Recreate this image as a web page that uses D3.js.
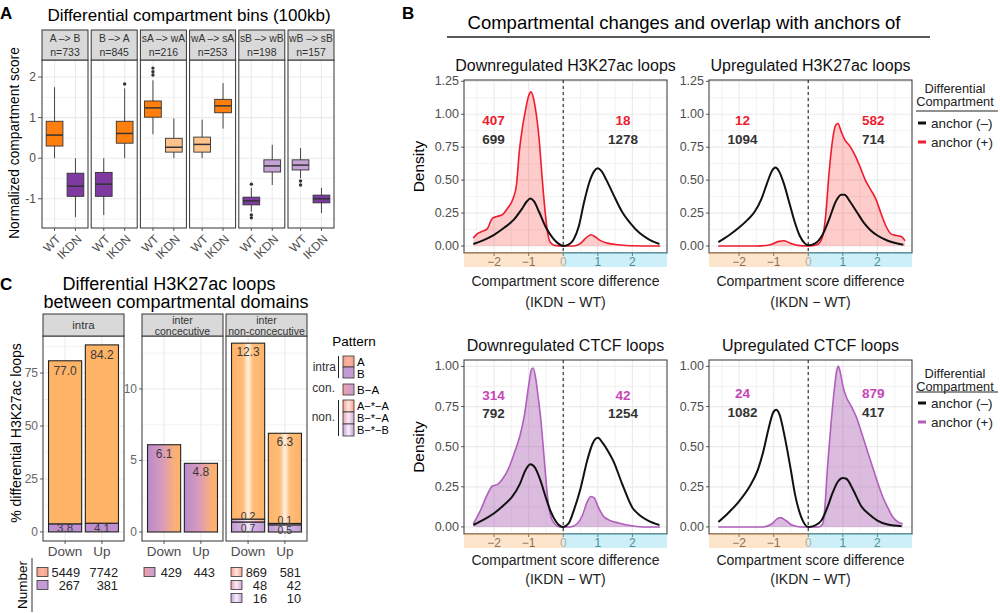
<!DOCTYPE html>
<html>
<head>
<meta charset="utf-8">
<script src="https://cdn.jsdelivr.net/npm/d3@7/dist/d3.min.js"></script>
<style>
html,body{margin:0;padding:0;background:#fff;}
svg{display:block;}
text{font-family:"Liberation Sans",Arial,Helvetica,sans-serif;}
</style>
</head>
<body>
<svg id="chart" width="1000" height="613"></svg>
<script>
// ================= DATA =================
// ---- Panel A : boxplots ----
const facetsA = ["A –> B","B –> A","sA –> wA","wA –> sA","sB –> wB","wB –> sB"];
const facetN  = [733,845,216,253,198,157];
const fromComp = ["A","B","sA","wA","sB","wB"];
const toComp   = ["B","A","wA","sA","wB","sB"];
const groupsA  = ["WT","IKDN"];
// [lower whisker, q1, median, q3, upper whisker]
const boxWT = [
  [0.00, 0.30, 0.57, 0.91, 1.75],
  [-1.40,-0.94,-0.64,-0.35, 0.00],
  [0.59, 1.01, 1.24, 1.41, 1.92],
  [0.00, 0.15, 0.34, 0.52, 0.95],
  [-1.32,-1.15,-1.05,-0.96,-0.73],
  [-0.49,-0.29,-0.17,-0.04, 0.25]
];
const boxIKDN = [
  [-1.45,-0.94,-0.69,-0.37, 0.00],
  [0.00, 0.37, 0.61, 0.91, 1.72],
  [0.00, 0.15, 0.27, 0.49, 0.98],
  [0.73, 1.12, 1.29, 1.45, 1.85],
  [-0.66,-0.34,-0.19,-0.04, 0.33],
  [-1.35,-1.10,-1.00,-0.91,-0.73]
];
const outWT   = [[],[],[2.05,2.13,2.22],[],[-0.64,-1.40,-1.47],[-0.56,-0.66]];
const outIKDN = [[],[1.83],[],[],[],[]];
const yTicksA = [-1,0,1,2];

// ---- Panel C : stacked bars ----
const cGroups = ["Down","Up"];
const intraA = [77.0, 84.2];
const intraB = [3.8, 4.1];
const conBA  = [6.1, 4.8];
const nonAA  = [12.3, 6.3];
const nonBA  = [0.2, 0.1];
const nonBB  = [0.7, 0.5];
const nIntraA = [5449, 7742];
const nIntraB = [267, 381];
const nConBA  = [429, 443];
const nNonAA  = [869, 581];
const nNonBA  = [48, 42];
const nNonBB  = [16, 10];
const yTicksIntra = [0,25,50,75];
const yTicksInter = [0,5,10];

// ---- Panel B : densities  [compartment score difference, density] ----
const h3DownNeg = [[-2.6,0.015],[-2.3,0.045],[-2.0,0.085],[-1.7,0.14],[-1.43,0.2],[-1.2,0.28],[-1.05,0.34],[-0.95,0.36],[-0.85,0.34],[-0.7,0.26],[-0.5,0.14],[-0.3,0.06],[-0.15,0.02],[0,0.0],[0.15,0.01],[0.3,0.05],[0.45,0.15],[0.6,0.33],[0.75,0.48],[0.9,0.57],[1.0,0.59],[1.1,0.57],[1.25,0.5],[1.45,0.39],[1.7,0.26],[1.95,0.17],[2.2,0.1],[2.45,0.055],[2.78,0.015]];
const h3DownPos = [[-2.6,0.06],[-2.5,0.09],[-2.35,0.11],[-2.2,0.13],[-2.05,0.21],[-1.9,0.225],[-1.75,0.24],[-1.6,0.29],[-1.45,0.36],[-1.35,0.47],[-1.27,0.72],[-1.18,0.9],[-1.1,1.02],[-1.0,1.14],[-0.93,1.17],[-0.86,1.12],[-0.78,1.0],[-0.7,0.82],[-0.64,0.62],[-0.58,0.42],[-0.52,0.25],[-0.45,0.1],[-0.38,0.03],[-0.25,0.005],[0,0],[0.3,0],[0.5,0.02],[0.65,0.06],[0.8,0.085],[0.92,0.07],[1.05,0.045],[1.3,0.02],[1.6,0.01],[2.0,0.002],[2.8,0.0]];
const h3UpNeg = [[-2.6,0.03],[-2.3,0.08],[-2.0,0.14],[-1.75,0.2],[-1.55,0.26],[-1.35,0.36],[-1.2,0.47],[-1.05,0.57],[-0.95,0.595],[-0.85,0.57],[-0.7,0.47],[-0.55,0.33],[-0.4,0.19],[-0.25,0.08],[-0.1,0.02],[0,0.005],[0.2,0.02],[0.4,0.08],[0.6,0.2],[0.8,0.34],[0.95,0.39],[1.05,0.39],[1.2,0.34],[1.4,0.26],[1.6,0.18],[1.8,0.12],[2.0,0.08],[2.3,0.04],[2.75,0.01]];
const h3UpPos = [[-2.6,0.0],[-1.5,0.0],[-1.1,0.01],[-0.85,0.035],[-0.7,0.04],[-0.55,0.025],[-0.3,0.005],[0,0],[0.25,0.01],[0.4,0.06],[0.5,0.22],[0.6,0.55],[0.7,0.8],[0.8,0.92],[0.86,0.93],[0.95,0.87],[1.05,0.81],[1.2,0.76],[1.35,0.69],[1.5,0.6],[1.65,0.5],[1.8,0.43],[1.95,0.36],[2.1,0.25],[2.25,0.15],[2.4,0.09],[2.55,0.08],[2.7,0.07],[2.8,0.04]];
const ctcfDownNeg = [[-2.6,0.012],[-2.3,0.045],[-2.0,0.085],[-1.7,0.14],[-1.47,0.19],[-1.25,0.27],[-1.1,0.35],[-0.95,0.39],[-0.82,0.37],[-0.66,0.29],[-0.5,0.18],[-0.37,0.1],[-0.2,0.03],[0,0],[0.15,0.02],[0.3,0.1],[0.5,0.24],[0.7,0.42],[0.85,0.52],[1.0,0.555],[1.15,0.52],[1.3,0.47],[1.45,0.41],[1.7,0.27],[2.0,0.12],[2.2,0.075],[2.45,0.04],[2.78,0.012]];
const ctcfDownPos = [[-2.6,0.02],[-2.4,0.1],[-2.2,0.2],[-2.05,0.255],[-1.9,0.265],[-1.75,0.3],[-1.55,0.38],[-1.4,0.47],[-1.25,0.57],[-1.12,0.7],[-1.0,0.88],[-0.92,0.98],[-0.87,0.99],[-0.8,0.93],[-0.72,0.8],[-0.64,0.65],[-0.58,0.5],[-0.53,0.37],[-0.46,0.2],[-0.38,0.08],[-0.25,0.02],[-0.1,0],[0.2,0],[0.4,0.02],[0.55,0.07],[0.68,0.15],[0.8,0.19],[0.9,0.18],[1.0,0.13],[1.15,0.07],[1.35,0.04],[1.6,0.025],[1.9,0.01],[2.3,0.0],[2.8,0.0]];
const ctcfUpNeg = [[-2.6,0.03],[-2.3,0.09],[-2.0,0.16],[-1.7,0.25],[-1.45,0.36],[-1.3,0.47],[-1.15,0.61],[-1.02,0.71],[-0.93,0.73],[-0.83,0.7],[-0.67,0.55],[-0.5,0.35],[-0.38,0.2],[-0.2,0.06],[0,0.0],[0.2,0.01],[0.38,0.04],[0.55,0.12],[0.7,0.21],[0.85,0.28],[1.0,0.305],[1.1,0.3],[1.3,0.23],[1.53,0.13],[1.75,0.08],[2.0,0.04],[2.3,0.015],[2.7,0.005]];
const ctcfUpPos = [[-2.6,0.0],[-1.3,0.0],[-1.05,0.02],[-0.9,0.05],[-0.8,0.058],[-0.65,0.04],[-0.45,0.01],[-0.2,0],[0.3,0],[0.42,0.02],[0.48,0.12],[0.55,0.35],[0.65,0.62],[0.75,0.85],[0.82,0.97],[0.87,1.0],[0.93,0.96],[1.0,0.88],[1.1,0.81],[1.25,0.75],[1.4,0.68],[1.55,0.58],[1.7,0.48],[1.85,0.38],[2.0,0.28],[2.15,0.19],[2.3,0.12],[2.45,0.06],[2.6,0.03],[2.73,0.02]];
// counts [left (<0), right (>0)]
const h3DownPosN = [407,18],  h3DownNegN = [699,1278];
const h3UpPosN   = [12,582],  h3UpNegN   = [1094,714];
const ctcfDownPosN = [314,42], ctcfDownNegN = [792,1254];
const ctcfUpPosN   = [24,879], ctcfUpNegN   = [1082,417];
const xTicksB = [-2,-1,0,1,2];

// ================= DRAWING =================
const svg = d3.select("#chart");
svg.append("rect").attr("width",1000).attr("height",613).attr("fill","#fff");
const defs = svg.append("defs");
const GRID = "#EBEBEB", BORDER = "#333333", AXT = "#4D4D4D";

function T(g, x, y, s, o = {}) {
  const t = g.append("text").attr("x", x).attr("y", y).text(s)
    .attr("font-size", o.size || 11).attr("fill", o.fill || "#000")
    .attr("text-anchor", o.anchor || "middle")
    .attr("dominant-baseline", o.base || "central");
  if (o.weight) t.attr("font-weight", o.weight);
  if (o.rot !== undefined) t.attr("transform", `rotate(${o.rot},${x},${y})`);
  return t;
}
function L(g, x1, y1, x2, y2, c, w, dash) {
  const l = g.append("line").attr("x1",x1).attr("y1",y1).attr("x2",x2).attr("y2",y2)
    .attr("stroke", c).attr("stroke-width", w);
  if (dash) l.attr("stroke-dasharray", dash);
  return l;
}
function grad(id, stops, vertical) {
  const gr = defs.append("linearGradient").attr("id", id)
    .attr("x1",0).attr("y1",0).attr("x2",vertical?0:1).attr("y2",vertical?1:0);
  stops.forEach(s => gr.append("stop").attr("offset", s[0]).attr("stop-color", s[1]));
}
grad("gCon", [[0,"#B98BCC"],[0.45,"#D89BBB"],[0.8,"#F9AE7A"],[1,"#FFB366"]]);
grad("gAA",  [[0,"#FFB366"],[0.35,"#FFBD7A"],[0.5,"#FFF0E2"],[0.65,"#FFBD7A"],[1,"#FFB366"]]);
grad("gBA",  [[0,"#C596D4"],[0.5,"#FBEAF0"],[1,"#F5A98F"]]);
grad("gBB",  [[0,"#C29AD5"],[0.35,"#D4B6E2"],[0.5,"#F6EEF9"],[0.65,"#D4B6E2"],[1,"#C29AD5"]]);
grad("gKeyA",  [[0,"#F7A18A"],[0.5,"#FAB5A3"],[1,"#F7A18A"]]);
grad("gKeyCon",[[0,"#EFA0A6"],[1,"#C99CD6"]]);
grad("gKeyAA", [[0,"#F7A18A"],[0.5,"#FDE6E0"],[1,"#F7A18A"]]);
grad("gKeyBA", [[0,"#E9A3B8"],[0.5,"#FBEAF2"],[1,"#D6A6D8"]]);
grad("gKeyBB", [[0,"#C8A2D8"],[0.5,"#F6EEF9"],[1,"#C8A2D8"]]);

// panel letters
T(svg, 0, 13, "A", {size:17, weight:"bold", anchor:"start"});
T(svg, 402, 13, "B", {size:17, weight:"bold", anchor:"start"});
T(svg, 0, 284, "C", {size:17, weight:"bold", anchor:"start"});

// ---------------- Panel A ----------------
(function(){
  const g = svg.append("g");
  const compColor = {A:"#FF7F0E", sA:"#FF7F0E", wA:"#FFC48C", B:"#7E3AA0", sB:"#7E3AA0", wB:"#C5A3D6"};
  const fx = d3.scaleBand().domain(facetsA).range([42,334]).paddingInner(0.065);
  const y = d3.scaleLinear().domain([-1.72,2.42]).range([228,60]);
  const bw = fx.bandwidth();
  const minor = yTicksA.map(t=>t+0.5).concat([yTicksA[0]-0.5]).filter(t=>t>y.domain()[0] && t<y.domain()[1]);
  T(g, 189, 15, "Differential compartment bins (100kb)", {size:17});
  facetsA.forEach((f,i)=>{
    const x0 = fx(f);
    const xs = d3.scalePoint().domain(groupsA).range([x0, x0+bw]).padding(0.6);
    g.append("rect").attr("x",x0).attr("y",60).attr("width",bw).attr("height",168).attr("fill","#fff");
    minor.forEach(t=>L(g,x0,y(t),x0+bw,y(t),GRID,0.6));
    yTicksA.forEach(t=>L(g,x0,y(t),x0+bw,y(t),GRID,1.1));
    groupsA.forEach(gr=>L(g,xs(gr),60,xs(gr),228,GRID,1.1));
    const items = [["WT",boxWT[i],outWT[i],fromComp[i]],["IKDN",boxIKDN[i],outIKDN[i],toComp[i]]];
    items.forEach(([gr,st,outs,comp])=>{
      const cx = xs(gr), w = xs.step()*0.8;
      L(g,cx,y(st[0]),cx,y(st[4]),"#333",0.9);
      g.append("rect").attr("x",cx-w/2).attr("y",y(st[3])).attr("width",w).attr("height",y(st[1])-y(st[3]))
        .attr("fill",compColor[comp]).attr("stroke","#333").attr("stroke-width",0.9);
      L(g,cx-w/2,y(st[2]),cx+w/2,y(st[2]),"#333",1.5);
      outs.forEach(o=>g.append("circle").attr("cx",cx).attr("cy",y(o)).attr("r",1.7).attr("fill","#333"));
      T(g, cx+4, 237, gr, {size:12, fill:AXT, anchor:"end", rot:-45});
      L(g,cx,228,cx,231,"#333",0.8);
    });
    g.append("rect").attr("x",x0).attr("y",60).attr("width",bw).attr("height",168)
      .attr("fill","none").attr("stroke",BORDER).attr("stroke-width",1);
    g.append("rect").attr("x",x0).attr("y",30).attr("width",bw).attr("height",30)
      .attr("fill","#D9D9D9").attr("stroke",BORDER).attr("stroke-width",1);
    T(g, x0+bw/2, 38.5, f, {size:10.3, fill:"#333"});
    T(g, x0+bw/2, 52, "n="+facetN[i], {size:10.5, fill:"#333"});
  });
  yTicksA.forEach(t=>{
    T(g, 36, y(t), String(t), {size:12, fill:AXT, anchor:"end"});
    L(g,38,y(t),42,y(t),"#333",0.8);
  });
  T(g, 14, 143, "Normalized compartment score", {size:13.8, rot:-90});
})();

// ---------------- Panel C ----------------
(function(){
  const g = svg.append("g");
  const top = 336, bot = 541;
  const yIntra = d3.scaleLinear().domain([-4.3,92.5]).range([bot,top]);
  const yInter = d3.scaleLinear().domain([-0.63,13.7]).range([bot,top]);
  const panels = [
    {x0:43, x1:124, y:yIntra, ticks:yTicksIntra, minorStep:12.5, strip:["intra"], axis:true},
    {x0:142,x1:223, y:yInter, ticks:yTicksInter, minorStep:2.5, strip:["inter","concecutive"], axis:true},
    {x0:226,x1:307, y:yInter, ticks:yTicksInter, minorStep:2.5, strip:["inter","non-concecutive"], axis:false}
  ];
  T(g, 169, 284, "Differential H3K27ac loops", {size:18});
  T(g, 176, 302, "between compartmental domains", {size:18});
  panels.forEach((p,pi)=>{
    const xs = d3.scalePoint().domain(cGroups).range([p.x0,p.x1]).padding(0.6);
    const bw = xs.step()*0.9;
    g.append("rect").attr("x",p.x0).attr("y",top).attr("width",p.x1-p.x0).attr("height",bot-top).attr("fill","#fff");
    const maxT = p.y.domain()[1];
    for (let t = p.ticks[0]+p.minorStep; t < maxT; t += 2*p.minorStep) L(g,p.x0,p.y(t),p.x1,p.y(t),GRID,0.6);
    p.ticks.forEach(t=>L(g,p.x0,p.y(t),p.x1,p.y(t),GRID,1.1));
    cGroups.forEach(gr=>L(g,xs(gr),top,xs(gr),bot,GRID,1.1));
    const y = p.y;
    cGroups.forEach((gr,i)=>{
      const cx = xs(gr), x = cx-bw/2;
      let segs;
      if (pi===0) segs = [[intraB[i],"#BF8FD0"],[intraA[i],"#FFB366"]];
      else if (pi===1) segs = [[conBA[i],"url(#gCon)"]];
      else segs = [[nonBB[i],"url(#gBB)"],[nonBA[i],"url(#gBA)"],[nonAA[i],"url(#gAA)"]];
      let base = 0;
      const centers = [];
      segs.forEach(([v,fill])=>{
        g.append("rect").attr("x",x).attr("y",y(base+v)).attr("width",bw).attr("height",y(base)-y(base+v))
          .attr("fill",fill).attr("stroke","#222").attr("stroke-width",1.1);
        centers.push([(y(base)+y(base+v))/2, y(base+v), v]);
        base += v;
      });
      const lab = v => v.toFixed(1);
      if (pi===0) {
        T(g, cx, centers[1][1]+10, lab(intraA[i]), {size:12, fill:"#3A3A3A"});
        T(g, cx, centers[0][0], lab(intraB[i]), {size:11.5, fill:"#3A3A3A"});
      } else if (pi===1) {
        T(g, cx, centers[0][1]+9, lab(conBA[i]), {size:12, fill:"#3A3A3A"});
      } else {
        T(g, cx, centers[2][1]+9, lab(nonAA[i]), {size:12, fill:"#3A3A3A"});
        T(g, cx, centers[1][0]-4.5, lab(nonBA[i]), {size:10.5, fill:"#3A3A3A"});
        T(g, cx, centers[0][0]+1.5, lab(nonBB[i]), {size:10.5, fill:"#3A3A3A"});
      }
      T(g, cx, 551, gr, {size:13.5, fill:AXT});
      L(g,cx,bot,cx,bot+3,"#333",0.8);
    });
    g.append("rect").attr("x",p.x0).attr("y",top).attr("width",p.x1-p.x0).attr("height",bot-top)
      .attr("fill","none").attr("stroke",BORDER).attr("stroke-width",1);
    g.append("rect").attr("x",p.x0).attr("y",314).attr("width",p.x1-p.x0).attr("height",22)
      .attr("fill","#D9D9D9").attr("stroke",BORDER).attr("stroke-width",1);
    const mx = (p.x0+p.x1)/2;
    if (p.strip.length===1) T(g, mx, 325, p.strip[0], {size:11.5, fill:"#333"});
    else { T(g, mx, 320, p.strip[0], {size:10.5, fill:"#333"}); T(g, mx, 331, p.strip[1], {size:10.5, fill:"#333"}); }
    if (p.axis) p.ticks.forEach(t=>{
      T(g, p.x0-5, y(t), String(t), {size:12, fill:"#666", anchor:"end"});
      L(g,p.x0-3,y(t),p.x0,y(t),"#333",0.8);
    });
  });
  T(g, 16, 433, "% differential H3K27ac loops", {size:14, rot:-90});

  // legend "Pattern"
  T(g, 354, 341, "Pattern", {size:13.5});
  const key = (x,y,fill,h)=>g.append("rect").attr("x",x).attr("y",y).attr("width",11).attr("height",h||10)
      .attr("fill",fill).attr("stroke","#333").attr("stroke-width",0.8);
  key(343,356,"url(#gKeyA)",11); key(343,367,"#C59BD5",11);
  T(g,357,361.5,"A",{size:11.5,anchor:"start"}); T(g,357,373.5,"B",{size:11.5,anchor:"start"});
  T(g,336,367,"intra",{size:12,anchor:"end",fill:"#333"}); L(g,338.5,356,338.5,378,"#222",1);
  key(343,384,"url(#gKeyCon)",11);
  T(g,357,389.5,"B−A",{size:11.5,anchor:"start"}); T(g,335,388,"con.",{size:12,anchor:"end",fill:"#333"});
  key(343,400,"url(#gKeyAA)",12); key(343,412,"url(#gKeyBA)",12); key(343,424,"url(#gKeyBB)",12);
  T(g,357,406,"A−*−A",{size:11,anchor:"start"}); T(g,357,418,"B−*−A",{size:11,anchor:"start"}); T(g,357,430,"B−*−B",{size:11,anchor:"start"});
  T(g,335,417,"non.",{size:12,anchor:"end",fill:"#333"}); L(g,338.5,400,338.5,436,"#222",1);

  // Number table
  T(g, 22, 585, "Number", {size:13.5, rot:-90});
  L(g,32,558,32,612,"#333",1);
  const tkey = (x,y,fill)=>g.append("rect").attr("x",x).attr("y",y-4.5).attr("width",11).attr("height",9)
      .attr("fill",fill).attr("stroke","#333").attr("stroke-width",0.8);
  const rows = [
    {kx:37, c1:80, c2:118, y:572, fill:"url(#gKeyA)", v:nIntraA},
    {kx:37, c1:80, c2:118, y:585, fill:"#C59BD5", v:nIntraB},
    {kx:144,c1:182,c2:215, y:572, fill:"url(#gKeyCon)", v:nConBA},
    {kx:231,c1:267,c2:301, y:572, fill:"url(#gKeyAA)", v:nNonAA},
    {kx:231,c1:267,c2:301, y:585, fill:"url(#gKeyBA)", v:nNonBA},
    {kx:231,c1:267,c2:301, y:598, fill:"url(#gKeyBB)", v:nNonBB}
  ];
  rows.forEach(r=>{
    tkey(r.kx, r.y, r.fill);
    T(g, r.c1, r.y, String(r.v[0]), {size:12.8, anchor:"end", fill:"#222"});
    T(g, r.c2, r.y, String(r.v[1]), {size:12.8, anchor:"end", fill:"#222"});
  });
})();

// ---------------- Panel B ----------------
T(svg, 684, 22, "Compartmental changes and overlap with anchors of", {size:18.5});
L(svg, 447, 37, 930, 37, "#222", 1.5);

const RED = "#EE1C2E", PURP = "#B05FBB";
const densPanels = [
  {title:"Downregulated H3K27ac loops", x0:464,x1:667,y0:80,y1:253, yDom:[-0.053,1.26], yTicks:[0,0.25,0.5,0.75,1,1.25],
   neg:h3DownNeg, pos:h3DownPos, posN:h3DownPosN, negN:h3DownNegN, col:RED, fill:"rgba(255,0,0,0.2)", annX:[-2.02,1.73], annY:[40,59], ylab:true, legend:false, xlabY:[281,302]},
  {title:"Upregulated H3K27ac loops", x0:709,x1:912,y0:80,y1:253, yDom:[-0.053,1.26], yTicks:[0,0.25,0.5,0.75,1,1.25],
   neg:h3UpNeg, pos:h3UpPos, posN:h3UpPosN, negN:h3UpNegN, col:RED, fill:"rgba(255,0,0,0.2)", annX:[-1.9,1.88], annY:[40,59], ylab:false, legend:true, legY:[88,101,111,123,142], xlabY:[281,302]},
  {title:"Downregulated CTCF loops", x0:464,x1:667,y0:360,y1:534, yDom:[-0.044,1.04], yTicks:[0,0.25,0.5,0.75,1],
   neg:ctcfDownNeg, pos:ctcfDownPos, posN:ctcfDownPosN, negN:ctcfDownNegN, col:PURP, fill:"rgba(160,80,170,0.38)", annX:[-2.02,1.73], annY:[35,53], ylab:true, legend:false, xlabY:[560,579]},
  {title:"Upregulated CTCF loops", x0:709,x1:912,y0:360,y1:534, yDom:[-0.044,1.04], yTicks:[0,0.25,0.5,0.75,1],
   neg:ctcfUpNeg, pos:ctcfUpPos, posN:ctcfUpPosN, negN:ctcfUpNegN, col:PURP, fill:"rgba(160,80,170,0.38)", annX:[-1.9,1.88], annY:[33,52], ylab:false, legend:true, legY:[373,386,392,403,422], xlabY:[560,579]}
];
densPanels.forEach(p=>{
  const g = svg.append("g");
  const x = d3.scaleLinear().domain([-2.87,3.0]).range([p.x0,p.x1]);
  const y = d3.scaleLinear().domain(p.yDom).range([p.y1,p.y0]);
  g.append("rect").attr("x",p.x0).attr("y",p.y0).attr("width",p.x1-p.x0).attr("height",p.y1-p.y0).attr("fill","#fff");
  // grid
  p.yTicks.forEach(t=>{ if (t+0.125 < p.yDom[1]) L(g,p.x0,y(t+0.125),p.x1,y(t+0.125),GRID,0.6); });
  xTicksB.concat([3]).forEach(t=>{ const m=t-0.5; if (m>-2.87 && m<3) L(g,x(m),p.y0,x(m),p.y1,GRID,0.6); });
  p.yTicks.forEach(t=>L(g,p.x0,y(t),p.x1,y(t),GRID,1.2));
  xTicksB.forEach(t=>L(g,x(t),p.y0,x(t),p.y1,GRID,1.2));
  const area = d3.area().x(d=>x(d[0])).y0(y(0)).y1(d=>y(d[1])).curve(d3.curveMonotoneX);
  const line = d3.line().x(d=>x(d[0])).y(d=>y(d[1])).curve(d3.curveMonotoneX);
  g.append("path").datum(p.pos).attr("d",area).attr("fill",p.fill);
  L(g,x(0),p.y0,x(0),p.y1,"#444",1.3,"3,3");
  g.append("path").datum(p.pos).attr("d",line).attr("fill","none").attr("stroke",p.col).attr("stroke-width",1.6);
  g.append("path").datum(p.neg).attr("d",line).attr("fill","none").attr("stroke","#111").attr("stroke-width",2);
  g.append("rect").attr("x",p.x0).attr("y",p.y0).attr("width",p.x1-p.x0).attr("height",p.y1-p.y0)
    .attr("fill","none").attr("stroke",BORDER).attr("stroke-width",1);
  // annotations
  [0,1].forEach(k=>{
    T(g, x(p.annX[k]), p.y0+p.annY[0], String(p.posN[k]), {size:13.5, weight:"bold", fill:p.col===RED?"#EE1C2E":"#C545B8"});
    T(g, x(p.annX[k]), p.y0+p.annY[1], String(p.negN[k]), {size:13.5, weight:"bold", fill:"#333"});
  });
  // y axis
  p.yTicks.forEach(t=>{
    T(g, p.x0-5, y(t), d3.format(".2f")(t), {size:12.5, fill:AXT, anchor:"end"});
    L(g,p.x0-3,y(t),p.x0,y(t),"#333",0.8);
  });
  // coloured x band
  g.append("rect").attr("x",p.x0).attr("y",p.y1).attr("width",x(0)-p.x0).attr("height",14).attr("fill","#FDE5CB");
  g.append("rect").attr("x",x(0)).attr("y",p.y1).attr("width",p.x1-x(0)).attr("height",14).attr("fill","#CDEFF8");
  L(g,p.x0,p.y1,x(0),p.y1,"#9C6B3E",1.2);
  L(g,x(0),p.y1,p.x1,p.y1,"#3D8C99",1.2);
  xTicksB.forEach(t=>{
    const c = t<0 ? "#8A6F55" : (t===0 ? "#B8AD9F" : "#4E8C96");
    L(g,x(t),p.y1,x(t),p.y1+3,t<0?"#8A6F55":"#3D8C99",1);
    T(g, x(t), p.y1+9, d3.format("d")(t), {size:12, fill:c});
  });
  const mx = (p.x0+p.x1)/2;
  T(g, mx, p.xlabY[0], "Compartment score difference", {size:14, fill:"#222"});
  T(g, mx, p.xlabY[1], "(IKDN − WT)", {size:14, fill:"#222"});
  T(g, mx, p.y0-15, p.title, {size:16, fill:"#111"});
  if (p.ylab) T(g, 418, (p.y0+p.y1)/2, "Density", {size:15.5, rot:-90});
  if (p.legend) {
    const ly = p.legY;
    T(g, 955, ly[0], "Differential", {size:12.8, fill:"#222"});
    T(g, 955, ly[1], "Compartment", {size:12.8, fill:"#222"});
    L(g, 916, ly[2], 998, ly[2], "#222", 1.2);
    L(g, 918, ly[3], 926, ly[3], "#111", 3);
    L(g, 918, ly[4], 926, ly[4], p.col, 3);
    T(g, 931, ly[3], "anchor (–)", {size:13.5, anchor:"start", fill:"#222"});
    T(g, 931, ly[4], "anchor (+)", {size:13.5, anchor:"start", fill:"#222"});
  }
});
</script>
</body>
</html>
